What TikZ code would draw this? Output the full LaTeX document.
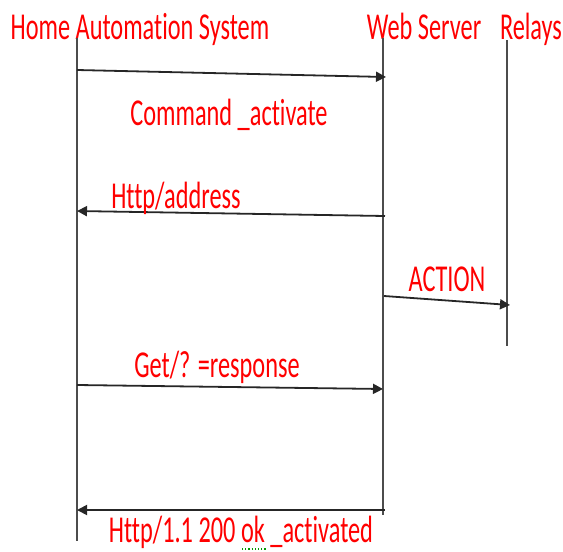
\documentclass[tikz,border=0pt]{standalone}
\usepackage{fontspec}
\setmainfont[Ligatures=NoCommon]{Carlito}
\usetikzlibrary{arrows.meta}
\newcommand{\sqz}[1]{\scalebox{0.64}[1]{#1}}
\tikzset{
  lbl/.style={text=red, font=\fontsize{38}{42}\selectfont, inner sep=0pt, anchor=base},
  life/.style={draw=black!70, line width=1.3pt},
  msg/.style={draw=black!85, line width=1.8pt, -{Triangle[length=10pt,width=10pt]}},
}
\begin{document}
\begin{tikzpicture}[x=1pt,y=-1pt]
\useasboundingbox (0,0) rectangle (563,552);
\node[lbl] (has) at (140,39) {\sqz{Home Automation System}};
\node[lbl] (ws) at (424,39) {\sqz{Web Server}};
\node[lbl] (rel) at (531,39) {\sqz{Relays}};
% lifelines
\coordinate (a0) at (77,38); \coordinate (a1) at (77,541);
\coordinate (b0) at (383,38); \coordinate (b1) at (383,515);
\coordinate (c0) at (507,40); \coordinate (c1) at (507,346);
\draw[life] (a0) -- (a1);
\draw[life] (b0) -- (b1);
\draw[life] (c0) -- (c1);
% messages
\coordinate (m1s) at (77,70); \coordinate (m1e) at (386,77);
\draw[msg] (m1s) -- (m1e);
\node[lbl] (l1) at (229,125) {\sqz{Command \_activate}};
\coordinate (m2s) at (385,216); \coordinate (m2e) at (77,211);
\draw[msg] (m2s) -- (m2e);
\node[lbl] (l2) at (176,208) {\sqz{Http/address}};
\coordinate (m3s) at (384,296); \coordinate (m3e) at (510,305);
\draw[msg] (m3s) -- (m3e);
\node[lbl] (l3) at (447,291) {\sqz{ACTION}};
\coordinate (m4s) at (77,385); \coordinate (m4e) at (383,389);
\draw[msg] (m4s) -- (m4e);
\node[lbl] (l4) at (217,377) {\sqz{Get/? =response}};
\coordinate (m5s) at (385,510); \coordinate (m5e) at (77,510);
\draw[msg] (m5s) -- (m5e);
\node[lbl] (l5) at (241,542) {\sqz{Http/1.1 200 ok \_activated}};
\draw[green!60!black, line width=1.2pt, dotted] (242,549) -- (267,549);
\end{tikzpicture}
\end{document}
